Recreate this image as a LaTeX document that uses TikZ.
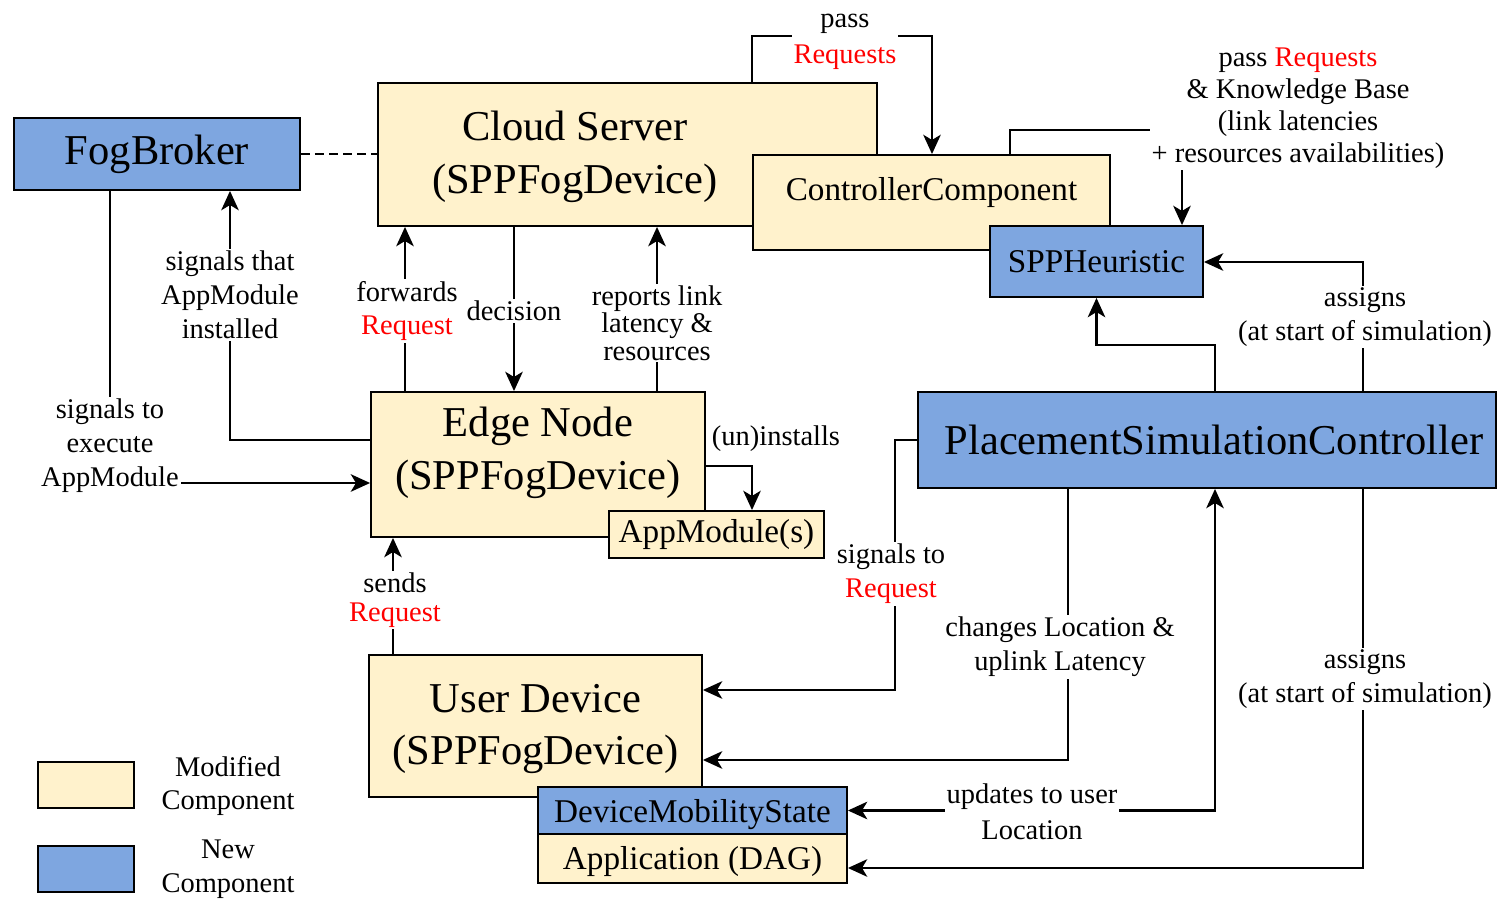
\documentclass[tikz,border=0pt]{standalone}
\usepackage{fontspec}
\setmainfont{Liberation Serif}
\usepackage{tikz}
\definecolor{white}{rgb}{1.0, 1.0, 1.0}
\definecolor{black}{rgb}{0.0, 0.0, 0.0}
\definecolor{modyellow}{RGB}{255,242,204}
\definecolor{newblue}{RGB}{126,166,224}
\definecolor{reqred}{RGB}{255,0,0}
\usetikzlibrary{arrows.meta}
\pgfdeclarelayer{edgelayer}
\pgfdeclarelayer{nodelayer}
\pgfsetlayers{edgelayer,nodelayer,main}
\tikzstyle{modbox}=[rectangle,fill=modyellow,draw=black,line width=1.1pt,inner sep=0pt,align=center]
\tikzstyle{newbox}=[rectangle,fill=newblue,draw=black,line width=1.1pt,inner sep=0pt,align=center]
\tikzstyle{bigtxt}=[align=center,font=\fontsize{24.2}{30}\selectfont]
\tikzstyle{midtxt}=[font=\fontsize{18.9}{22}\selectfont]
\tikzstyle{lbl}=[fill=white,inner sep=1pt,align=center,font=\fontsize{16.2}{19.3}\selectfont]
\tikzstyle{wire}=[line width=1.2pt]
\tikzset{>={Stealth[length=11pt,width=10pt,inset=3pt]}}
\newcommand{\req}[1]{\textcolor{reqred}{#1}}

\begin{document}
\begin{tikzpicture}[x=0.02cm, y=-0.02cm]
    \useasboundingbox (0,0) rectangle (1498,901);

    \begin{pgfonlayer}{nodelayer}
    % boxes
    \node [style = modbox, minimum width=9.98cm, minimum height=2.86cm] (cloud) at (627.5,154.5) {};
    \node [style = bigtxt] (cloudtxt) at (575,157) {Cloud Server\\(SPPFogDevice)};
    \node [style = modbox, minimum width=7.14cm, minimum height=1.9cm] (ctrl) at (931.5,202.5) {};
    \node [style = midtxt] (ctrltxt) at (931.5,193) {ControllerComponent};
    \node [style = newbox, midtxt, minimum width=4.26cm, minimum height=1.42cm] (heur) at (1096.5,261.5) {SPPHeuristic};

    \node [style = newbox, bigtxt, minimum width=5.72cm, minimum height=1.44cm] (fog) at (157,154) {FogBroker};

    \node [style = modbox, minimum width=6.68cm, minimum height=2.9cm] (edge) at (538,464.5) {};
    \node [style = bigtxt] (edgetxt) at (538,453) {Edge Node\\(SPPFogDevice)};
    \node [style = modbox, midtxt, minimum width=4.3cm, minimum height=0.94cm] (appmod) at (716.5,534.5) {AppModule(s)};

    \node [style = newbox, minimum width=11.58cm, minimum height=1.92cm] (psc) at (1207,440) {};
    \node [style = bigtxt] (psctxt) at (1214,440) {PlacementSimulationController};

    \node [style = modbox, minimum width=6.66cm, minimum height=2.84cm] (user) at (535.5,726) {};
    \node [style = bigtxt] (usertxt) at (535.5,729) {User Device\\(SPPFogDevice)};
    \node [style = newbox, minimum width=6.18cm, minimum height=0.94cm] (dms) at (692.5,810.5) {};
    \node [style = midtxt] (dmstxt) at (692.5,815) {DeviceMobilityState};
    \node [style = modbox, minimum width=6.18cm, minimum height=0.98cm] (dag) at (692.5,858.5) {};
    \node [style = midtxt] (dagtxt) at (692.5,862) {Application (DAG)};

    % legend
    \node [style = modbox, minimum width=1.92cm, minimum height=0.92cm] (legmod) at (86,785) {};
    \node [style = newbox, minimum width=1.92cm, minimum height=0.92cm] (legnew) at (86,869) {};
    \node [style = lbl] (legmodtxt) at (228,786) {Modified\\Component};
    \node [style = lbl] (legnewtxt) at (228,869) {New\\Component};

    % labels
    \node [style = lbl] (lexec) at (110,446) {signals to\\execute\\AppModule};
    \node [style = lbl] (linst) at (230,295) {signals that\\AppModule\\installed};
    \node [style = lbl] (lfwd) at (407,311) {forwards\\\req{Request}};
    \node [style = lbl] (ldec) at (514,311) {decision};
    \node [style = lbl, font=\fontsize{16.2}{15.6}\selectfont] (lrep) at (657,323) {reports link\\latency \&\\resources};
    \node [style = lbl] (luninst) at (776,439) {(un)installs};
    \node [style = lbl, font=\fontsize{16.2}{20.4}\selectfont] (lpass) at (845,42) {pass\\\req{Requests}};
    \node [style = lbl, font=\fontsize{16.2}{18.2}\selectfont] (lkb) at (1298,108) {pass \req{Requests}\\\& Knowledge Base\\(link latencies\\+ resources availabilities)};
    \node [style = lbl] (lasg) at (1365,317) {assigns\\(at start of simulation)};
    \node [style = lbl] (lsreq) at (891,574) {signals to\\\req{Request}};
    \node [style = lbl] (lchg) at (1060,647) {changes Location \&\\uplink Latency};
    \node [style = lbl, font=\fontsize{16.2}{20.4}\selectfont] (lupd) at (1032,812) {updates to user\\Location};
    \node [style = lbl] (lasg2) at (1365,679) {assigns\\(at start of simulation)};
    \node [style = lbl, font=\fontsize{16.2}{16.4}\selectfont] (lsnd) at (395,600) {sends\\\req{Request}};
    \end{pgfonlayer}

    \begin{pgfonlayer}{edgelayer}
    % lanes
    \coordinate (exe) at (110,483);
    \coordinate (inst) at (230,440);
    \coordinate (fwd) at (405,0);
    \coordinate (dec) at (514,0);
    \coordinate (rep) at (657,0);
    \coordinate (uninst) at (752,466);
    \coordinate (passl) at (752,36);
    \coordinate (passr) at (932,36);
    \coordinate (kbl) at (1010,130);
    \coordinate (kbr) at (1182,130);
    \coordinate (asg) at (1363,262);
    \coordinate (heurin) at (1215,345);
    \coordinate (sreq) at (895,690);
    \coordinate (chg) at (1068,760);
    \coordinate (upd) at (1215,810.5);
    \coordinate (asg2) at (1363,868);
    \coordinate (snd) at (393,0);

    \draw [wire, dash pattern=on 5pt off 3pt] (fog.east) -- (cloud.west |- fog.east);
    \draw [->, wire] (fog.south -| exe) |- (edge.west |- exe);
    \draw [->, wire] (edge.west |- inst) -| (fog.south -| inst);
    \draw [->, wire] (edge.north -| fwd) -- (cloud.south -| fwd);
    \draw [->, wire] (cloud.south -| dec) -- (edge.north -| dec);
    \draw [->, wire] (edge.north -| rep) -- (cloud.south -| rep);
    \draw [->, wire] (edge.east |- uninst) -| (appmod.north -| uninst);
    \draw [->, wire] (cloud.north -| passl) |- (passr) -- (ctrl.north -| passr);
    \draw [->, wire] (ctrl.north -| kbl) |- (kbr) -- (heur.north -| kbr);
    \draw [->, wire] (psc.north -| asg) |- (heur.east |- asg);
    \draw [->, wire] (psc.north -| heurin) -- (heurin) -| (heur.south);
    \draw [->, wire] (psc.west) -| (sreq) -- (user.east |- sreq);
    \draw [->, wire] (psc.south -| chg) |- (user.east |- chg);
    \draw [<->, wire] (dms.east) -| (psc.south -| upd);
    \draw [->, wire] (psc.south -| asg2) |- (dag.east |- asg2);
    \draw [->, wire] (user.north -| snd) -- (edge.south -| snd);
    \end{pgfonlayer}
\end{tikzpicture}
\end{document}
